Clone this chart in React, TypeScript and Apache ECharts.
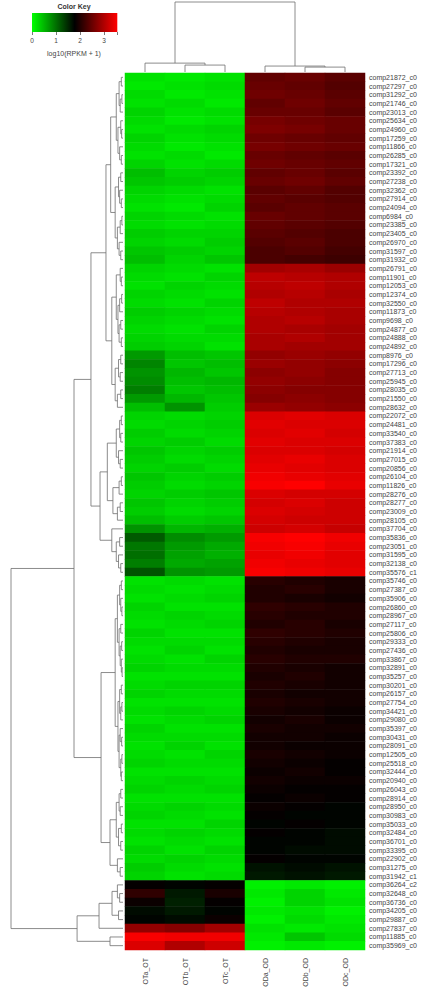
import React, { useEffect, useRef } from "react";
import * as echarts from "echarts";

const genes = [
  "comp21872_c0","comp27297_c0","comp31292_c0","comp21746_c0","comp23013_c0","comp25634_c0","comp24960_c0","comp17259_c0","comp11866_c0","comp26285_c0","comp17321_c0",
  "comp23392_c0","comp27238_c0","comp32362_c0","comp27914_c0","comp24094_c0","comp6984_c0","comp23385_c0","comp23405_c0","comp26970_c0","comp31597_c0","comp31932_c0",
  "comp26791_c0","comp11901_c0","comp12053_c0","comp12374_c0","comp32550_c0","comp11873_c0","comp9698_c0","comp24877_c0","comp24888_c0","comp24892_c0",
  "comp8976_c0","comp17296_c0","comp27713_c0","comp25945_c0","comp28035_c0","comp21550_c0","comp28632_c0",
  "comp22072_c0","comp24481_c0","comp33540_c0","comp37383_c0","comp21914_c0","comp27015_c0","comp20856_c0","comp26104_c0","comp11826_c0","comp28276_c0","comp28277_c0","comp23009_c0","comp28105_c0",
  "comp37704_c0","comp35836_c0","comp23051_c0","comp31595_c0","comp32138_c0","comp35576_c1",
  "comp35746_c0","comp27387_c0","comp35906_c0","comp26860_c0","comp28967_c0","comp27117_c0","comp25806_c0","comp29333_c0","comp27436_c0","comp33867_c0","comp32891_c0","comp35257_c0",
  "comp30201_c0","comp26157_c0","comp27754_c0","comp34421_c0","comp29080_c0","comp35397_c0","comp30431_c0","comp28091_c0","comp12505_c0","comp25518_c0","comp32444_c0","comp20940_c0",
  "comp26043_c0","comp28914_c0","comp28950_c0","comp30983_c0","comp35033_c0","comp32484_c0","comp36701_c0","comp33395_c0",
  "comp22902_c0","comp31275_c0","comp31942_c1",
  "comp36264_c2","comp32648_c0","comp36736_c0","comp34205_c0","comp29887_c0","comp27837_c0","comp11885_c0","comp35969_c0"
];

const samples = ["OTa_OT", "OTb_OT", "OTc_OT", "ODa_OD", "ODb_OD", "ODc_OD"];

const OTa = [
  0.2,0.15,0.25,0.2,0.3,0.25,0.2,0.3,0.25,0.2,0.3,0.45,0.4,0.3,0.25,0.2,0.3,0.25,0.35,0.3,0.4,0.45,
  0.3,0.25,0.2,0.3,0.25,0.35,0.3,0.25,0.3,0.35,0.7,0.85,0.75,0.8,0.9,0.7,0.45,
  0.3,0.25,0.35,0.3,0.4,0.35,0.3,0.4,0.35,0.3,0.4,0.35,0.45,0.75,1.15,0.95,1.0,0.9,1.2,
  0.2,0.25,0.2,0.3,0.25,0.2,0.3,0.25,0.2,0.25,0.3,0.2,0.25,0.3,0.2,0.25,0.2,0.3,0.25,0.2,0.25,0.3,0.2,0.25,0.3,0.2,0.25,0.3,0.2,0.25,0.2,0.3,0.25,0.35,0.3,
  1.8,2.1,1.85,1.7,1.75,2.8,3.5,3.3
];
const OTb = [
  0.15,0.2,0.15,0.25,0.2,0.15,0.25,0.2,0.15,0.25,0.2,0.3,0.35,0.25,0.2,0.15,0.25,0.2,0.3,0.25,0.35,0.3,
  0.25,0.2,0.3,0.25,0.2,0.3,0.25,0.2,0.25,0.3,0.45,0.4,0.5,0.45,0.4,0.5,0.75,
  0.25,0.3,0.25,0.35,0.3,0.25,0.35,0.3,0.25,0.35,0.3,0.25,0.35,0.5,0.8,0.7,0.65,0.6,0.75,
  0.25,0.2,0.25,0.2,0.3,0.25,0.2,0.25,0.3,0.2,0.25,0.2,0.3,0.25,0.2,0.3,0.25,0.2,0.25,0.3,0.2,0.25,0.2,0.3,0.25,0.2,0.3,0.25,0.2,0.3,0.25,0.2,0.3,0.25,0.2,
  1.75,1.6,1.55,1.6,1.7,2.7,3.45,3.0
];
const OTc = [
  0.2,0.25,0.2,0.15,0.25,0.2,0.3,0.25,0.2,0.15,0.25,0.35,0.3,0.2,0.25,0.3,0.2,0.25,0.3,0.35,0.3,0.4,
  0.2,0.3,0.25,0.2,0.3,0.25,0.2,0.3,0.25,0.2,0.4,0.45,0.4,0.5,0.45,0.4,0.35,
  0.3,0.35,0.3,0.25,0.35,0.3,0.25,0.35,0.3,0.4,0.35,0.3,0.4,0.55,0.7,0.6,0.55,0.65,0.7,
  0.2,0.25,0.3,0.2,0.25,0.3,0.2,0.25,0.2,0.3,0.25,0.2,0.3,0.25,0.2,0.25,0.3,0.2,0.25,0.2,0.3,0.25,0.2,0.25,0.3,0.2,0.25,0.2,0.3,0.25,0.2,0.3,0.25,0.2,0.25,
  1.8,1.95,1.8,1.75,1.85,2.9,3.45,3.2
];
const ODa = [
  2.45,2.5,2.55,2.45,2.5,2.6,2.65,2.55,2.6,2.5,2.55,2.45,2.5,2.4,2.45,2.4,2.5,2.45,2.4,2.35,2.3,2.3,
  2.9,3.1,3.05,3.0,3.1,3.05,3.0,3.0,2.95,2.95,2.8,2.85,2.75,2.8,2.75,2.7,2.85,
  3.3,3.35,3.3,3.35,3.3,3.35,3.4,3.45,3.5,3.3,3.25,3.3,3.25,3.2,3.5,3.45,3.4,3.45,3.5,
  2.05,2.0,2.0,2.1,2.05,2.0,2.1,2.05,2.0,2.05,2.0,1.95,2.0,1.95,2.0,1.95,1.9,1.95,1.9,1.9,1.95,1.9,1.85,1.9,1.85,1.8,1.85,1.8,1.75,1.8,1.75,1.75,1.8,1.65,1.6,
  0.1,0.15,0.1,0.15,0.1,0.2,0.15,0.1
];
const ODb = [
  2.5,2.45,2.5,2.55,2.5,2.55,2.6,2.5,2.55,2.45,2.5,2.5,2.55,2.45,2.4,2.45,2.45,2.4,2.35,2.4,2.35,2.25,
  2.95,3.05,3.1,3.05,3.0,3.0,3.05,2.95,3.0,2.9,2.85,2.8,2.8,2.75,2.7,2.75,2.8,
  3.35,3.3,3.35,3.3,3.3,3.4,3.35,3.4,3.55,3.25,3.3,3.25,3.2,3.25,3.55,3.5,3.45,3.4,3.45,
  2.0,2.05,1.95,2.05,2.0,2.05,2.05,2.0,1.95,2.0,1.95,2.0,1.95,1.9,1.95,1.9,1.95,1.9,1.9,1.85,1.9,1.85,1.9,1.85,1.8,1.85,1.8,1.75,1.8,1.75,1.75,1.7,1.75,1.7,1.65,
  0.15,0.3,0.3,0.2,0.25,0.15,0.4,0.15
];
const ODc = [
  2.4,2.35,2.4,2.45,2.4,2.5,2.5,2.45,2.5,2.4,2.45,2.4,2.45,2.35,2.35,2.4,2.4,2.35,2.3,2.3,2.25,2.2,
  2.85,3.0,3.0,2.95,3.0,2.95,2.95,2.9,2.9,2.9,2.8,2.75,2.7,2.7,2.7,2.7,2.75,
  3.3,3.3,3.25,3.3,3.25,3.3,3.3,3.35,3.4,3.25,3.2,3.2,3.2,3.15,3.45,3.4,3.35,3.35,3.4,
  1.95,1.95,1.9,2.0,2.0,1.95,2.0,1.95,1.95,2.0,1.9,1.9,1.9,1.9,1.9,1.85,1.85,1.9,1.85,1.85,1.85,1.8,1.8,1.85,1.8,1.8,1.75,1.75,1.75,1.7,1.7,1.7,1.75,1.65,1.6,
  0.1,0.15,0.2,0.1,0.15,0.2,0.25,0.1
];
const columns = [OTa, OTb, OTc, ODa, ODb, ODc];

// Key
const keyMin = 0;
const keyMax = 3.55;
const keyTicks = [0, 1, 2, 3];

// Row dendrogram: node = leaf row index, or [height, left, right]
type Node = number | [number, Node, Node];
const A1a1: Node = [6, [3.5, [1.5, 0, 1], [2.5, [1, 2, 3], 4]], [4.5, [2, 5, [1.2, 6, 7]], [3, 8, [1.5, 9, 10]]]];
const A1a2: Node = [7, [4, [2, 11, 12], [3, 13, [1.5, 14, 15]]], [5, [2.5, [1, 16, 17], 18], [3.5, 19, [2, 20, 21]]]];
const A1b1: Node = [6, [2.5, 22, [1.5, 23, 24]], [4.5, [3, [1.2, 25, 26], 27], [3.5, [2, 28, 29], [1.5, 30, 31]]]];
const A1b2: Node = [7, [4, [2, 32, 33], [2.5, 34, 35]], [5, [2, 36, 37], 38]];
const A2a: Node = [14, [6, [3, [1.5, 39, 40], [2, 41, 42]], [4, 43, [2.5, 44, 45]]], [9, [3.5, [1.5, 46, 47], 48], [5, [2.5, 49, 50], 51]]];
const A2b: Node = [10, 52, [6, [3, 53, 54], [4, 55, [2, 56, 57]]]];
const B1a: Node = [5, [3, [1.5, 58, 59], [2, 60, [1, 61, 62]]], [3.5, [2, 63, 64], [2.5, [1.2, 65, 66], [1.5, 67, [0.8, 68, 69]]]]];
const B1b: Node = [4.5, [3, [1.5, 70, 71], [2, [1, 72, 73], 74]], [3.5, [2.5, 75, [1.2, 76, 77]], [2, [1, 78, 79], [1.5, 80, 81]]]];
const B2a: Node = [6, [3.5, [2, 82, 83], [2.5, 84, 85]], [4, [1.5, 86, 87], [2, 88, 89]]];
const B2b: Node = [5, 90, [2.5, 91, 92]];
const Bot1a: Node = [9.8, [5, 93, [3, 94, 95]], [4, 96, 97]];
const rowTree: Node = [100,
  [43.75,
    [28.6, [15.2, [11, A1a1, A1a2], [10, A1b1, A1b2]], [20.5, A2a, A2b]],
    [19.6, [7, B1a, B1b], [11.6, B2a, B2b]]],
  [41, [21.4, Bot1a, 98], [11.6, 99, 100]]];

const colTree: Node = [100, [12.7, 0, [9.9, 1, 2]], [8.5, 3, [7, 4, 5]]];

function layout(node: Node, segs: number[][]): { pos: number; h: number } {
  if (typeof node === "number") return { pos: node + 0.5, h: 0 };
  const [h, a, b] = node;
  const la = layout(a, segs);
  const lb = layout(b, segs);
  segs.push([la.h, la.pos, h, la.pos]);
  segs.push([lb.h, lb.pos, h, lb.pos]);
  segs.push([h, la.pos, h, lb.pos]);
  return { pos: (la.pos + lb.pos) / 2, h };
}

const FONT = "Liberation Sans, Arial, Helvetica, sans-serif";

export default function App() {
  const ref = useRef<HTMLDivElement>(null);
  useEffect(() => {
    if (!ref.current) return;
    const chart = echarts.init(ref.current, undefined, { renderer: "svg" });

    const heat: number[][] = [];
    genes.forEach((_, r) => {
      columns.forEach((col, c) => heat.push([c, r, col[r]]));
    });
    const rowSegs: number[][] = [];
    layout(rowTree, rowSegs);
    const colSegsRaw: number[][] = [];
    layout(colTree, colSegsRaw);
    const colSegs = colSegsRaw.map((s) => [s[1], s[0], s[3], s[2]]);

    const segRender = (params: any, api: any) => {
      const p1 = api.coord([api.value(0), api.value(1)]);
      const p2 = api.coord([api.value(2), api.value(3)]);
      return {
        type: "line",
        shape: { x1: p1[0], y1: p1[1], x2: p2[0], y2: p2[1] },
        style: { stroke: "#6e6e6e", lineWidth: 0.8 },
      };
    };

    const option: any = {
      animation: false,
      backgroundColor: "#ffffff",
      textStyle: { fontFamily: FONT },
      grid: [
        { left: 125, top: 73, width: 240, height: 877 },
        { left: 11, top: 73, width: 112, height: 877 },
        { left: 125, top: 2, width: 240, height: 70 },
        { left: 32, top: 13, width: 85.3, height: 19 },
      ],
      xAxis: [
        {
          gridIndex: 0, type: "category", data: samples,
          axisLine: { show: false }, axisTick: { show: false },
          axisLabel: { rotate: 90, interval: 0, margin: 8, fontSize: 7, color: "#444", fontFamily: FONT },
        },
        { gridIndex: 1, type: "value", min: 0, max: 100, inverse: true, show: false },
        { gridIndex: 2, type: "value", min: 0, max: 6, show: false },
        {
          gridIndex: 3, type: "value", min: keyMin, max: keyMax, interval: 1,
          axisLine: { show: false },
          axisTick: { show: true, length: 3, lineStyle: { color: "#555", width: 0.8 } },
          splitLine: { show: false },
          axisLabel: {
            fontSize: 6.5, color: "#444", margin: 5, fontFamily: FONT,
            formatter: (v: number) => (keyTicks.includes(v) ? String(v) : ""),
          },
        },
      ],
      yAxis: [
        {
          gridIndex: 0, type: "category", data: genes, inverse: true, position: "right",
          axisLine: { show: false }, axisTick: { show: false },
          axisLabel: { interval: 0, margin: 4, fontSize: 7, color: "#444", fontFamily: FONT },
        },
        { gridIndex: 1, type: "value", min: 0, max: genes.length, inverse: true, show: false },
        { gridIndex: 2, type: "value", min: 0, max: 100, show: false },
        { gridIndex: 3, type: "value", min: 0, max: 1, show: false },
      ],
      visualMap: {
        show: false, type: "continuous", min: keyMin, max: keyMax, seriesIndex: 0, dimension: 2,
        inRange: { color: ["#00ff00", "#000000", "#ff0000"] },
      },
      series: [
        {
          type: "heatmap", xAxisIndex: 0, yAxisIndex: 0, data: heat,
          itemStyle: { borderWidth: 0 }, emphasis: { disabled: true },
        },
        {
          type: "custom", xAxisIndex: 1, yAxisIndex: 1, data: rowSegs,
          renderItem: segRender, clip: false, silent: true,
        },
        {
          type: "custom", xAxisIndex: 2, yAxisIndex: 2, data: colSegs,
          renderItem: segRender, clip: false, silent: true,
        },
        {
          type: "custom", xAxisIndex: 3, yAxisIndex: 3, data: [[keyMin, keyMax]],
          clip: false, silent: true,
          renderItem: (params: any, api: any) => {
            const p1 = api.coord([api.value(0), 1]);
            const p2 = api.coord([api.value(1), 0]);
            return {
              type: "rect",
              shape: { x: p1[0], y: p1[1], width: p2[0] - p1[0], height: p2[1] - p1[1] },
              style: {
                fill: new echarts.graphic.LinearGradient(0, 0, 1, 0, [
                  { offset: 0, color: "#00ff00" },
                  { offset: 0.5, color: "#000000" },
                  { offset: 1, color: "#ff0000" },
                ]),
              },
            };
          },
        },
      ],
      graphic: [
        {
          type: "text", x: 74, y: 3,
          style: { text: "Color Key", fontSize: 7, fontWeight: "bold", fill: "#333", align: "center", fontFamily: FONT },
        },
        {
          type: "text", x: 74, y: 50,
          style: { text: "log10(RPKM + 1)", fontSize: 7, fill: "#444", align: "center", fontFamily: FONT },
        },
      ],
    };
    chart.setOption(option);
    return () => chart.dispose();
  }, []);
  return (
    <div
      ref={ref}
      style={{ position: "fixed", left: 0, top: 0, width: 421, height: 992, background: "#fff" }}
    />
  );
}
